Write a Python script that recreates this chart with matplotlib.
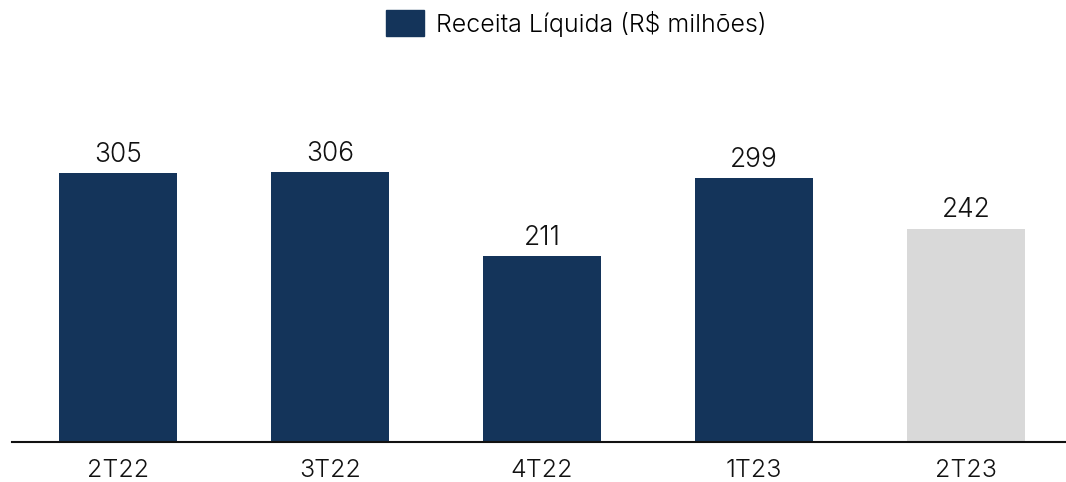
import matplotlib.pyplot as plt
from matplotlib.patches import Patch

# data
quarters = ['2T22', '3T22', '4T22', '1T23', '2T23']
revenue = [305, 306, 211, 299, 242]
bar_colors = ['#14345A', '#14345A', '#14345A', '#14345A', '#D9D9D9']

plt.rcParams['font.family'] = ['Inter', 'DejaVu Sans']
plt.rcParams['font.weight'] = 300

fig = plt.figure(figsize=(10.66, 4.82), dpi=100)
ax = fig.add_axes([12 / 1066, 40 / 482, 1 - 12 / 1066, 380 / 482])

x = range(len(quarters))
bars = ax.bar(x, revenue, width=0.557, color=bar_colors)

for b, v in zip(bars, revenue):
    ax.text(b.get_x() + b.get_width() / 2, v + 6, str(v),
            ha='center', va='bottom', fontsize=19, color='#111111')

ax.set_xlim(-0.5, 4.472)
ax.set_ylim(0, 431)
ax.set_xticks(list(x))
ax.set_xticklabels(quarters, fontsize=18, color='#111111')
ax.tick_params(axis='x', length=0, pad=12)
ax.set_yticks([])
for s in ['top', 'right', 'left']:
    ax.spines[s].set_visible(False)
ax.spines['bottom'].set_color('#111111')
ax.spines['bottom'].set_linewidth(1.5)

handles = [Patch(color='#14345A', label='Receita Líquida (R$ milhões)')]
fig.legend(handles=handles, loc='upper center', bbox_to_anchor=(0.541, 1.025),
           frameon=False, fontsize=18, handlelength=1.5, handleheight=1.2,
           handletextpad=0.5)

fig.savefig('out.png', dpi=100)
